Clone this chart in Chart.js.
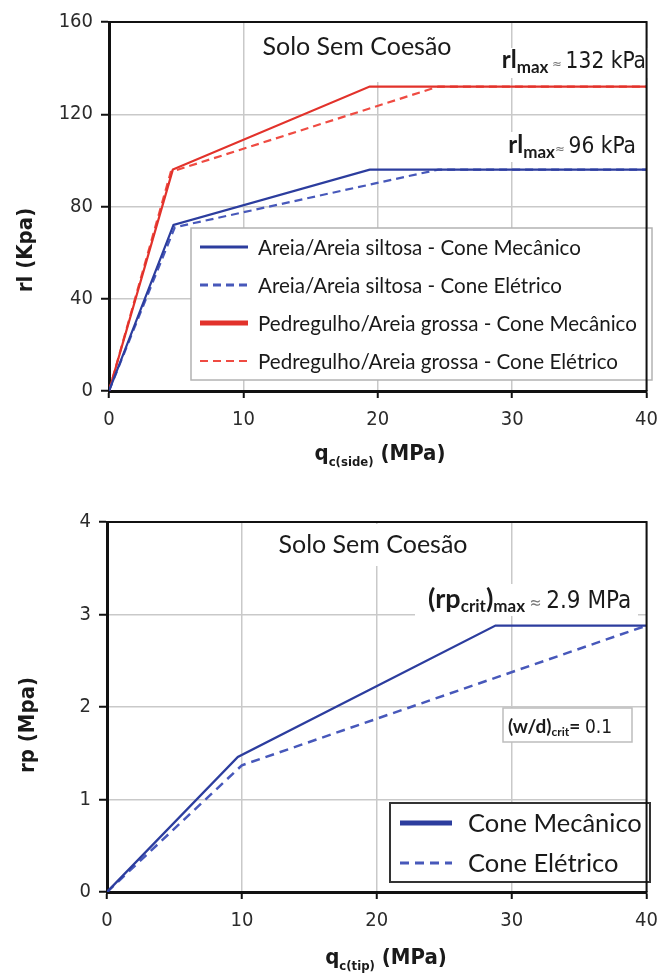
<!DOCTYPE html>
<html>
<head>
<meta charset="utf-8">
<script src="https://cdn.jsdelivr.net/npm/chart.js@4.4.1/dist/chart.umd.min.js"></script>
<style>
  html, body { margin: 0; padding: 0; background: #fff; }
  #wrapSide { position: absolute; left: 0; top: 0; width: 668px; height: 470px; }
  #wrapTip { position: absolute; left: 0; top: 490px; width: 668px; height: 484px; }
</style>
</head>
<body>
<div id="wrapSide"><canvas id="chartSide"></canvas></div>
<div id="wrapTip"><canvas id="chartTip"></canvas></div>
<script>
// ---- data ----
const sideTicksX = [0, 10, 20, 30, 40];
const sideTicksY = [0, 40, 80, 120, 160];

const areiaMecQc = [0, 4.8, 19.4, 40];
const areiaMecRl = [0, 72, 96, 96];
const areiaEleQc = [0, 4.9, 24.5, 40];
const areiaEleRl = [0, 71, 96, 96];
const pedMecQc = [0, 4.75, 19.4, 40];
const pedMecRl = [0, 96, 132, 132];
const pedEleQc = [0, 4.6, 24.5, 40];
const pedEleRl = [0, 95, 132, 132];

const tipTicksX = [0, 10, 20, 30, 40];
const tipTicksY = [0, 1, 2, 3, 4];

const tipMecQc = [0, 9.7, 28.8, 40];
const tipMecRp = [0, 1.46, 2.88, 2.88];
const tipEleQc = [0, 10, 40];
const tipEleRp = [0, 1.37, 2.88];

const COLORS = {
    blue: '#2c3d9e',
    blueDash: '#4758ba',
    red: '#e2322b',
    redDash: '#ef4b42',
    grid: '#c9c9c9'
};

const CAL = 'Lato, "Open Sans", sans-serif';
const NAR = '"DejaVu Sans Condensed", "Liberation Sans", Arial, sans-serif';

function pts(xs, ys) {
    return xs.map((x, i) => ({x: x, y: ys[i]}));
}

// draws a row of text pieces (for subscripts)
function drawParts(ctx, parts, x, y, align) {
    let w = 0;
    parts.forEach(p => { ctx.font = p.font; w += ctx.measureText(p.t).width; });
    let cx = align === 'right' ? x - w : (align === 'center' ? x - w / 2 : x);
    parts.forEach(p => {
        ctx.font = p.font;
        ctx.fillStyle = p.color || '#1a1a1a';
        ctx.fillText(p.t, cx, y + (p.dy || 0));
        cx += ctx.measureText(p.t).width;
    });
}

function whiteBox(ctx, x1, y1, x2, y2) {
    ctx.fillStyle = '#fff';
    ctx.fillRect(x1, y1, x2 - x1, y2 - y1);
}

function drawLegend(ctx, chart, box, rows, sample, textX, font) {
    ctx.save();
    whiteBox(ctx, box.x1, box.y1, box.x2, box.y2);
    ctx.strokeStyle = box.stroke;
    ctx.lineWidth = box.lw;
    ctx.strokeRect(box.x1, box.y1, box.x2 - box.x1, box.y2 - box.y1);
    chart.data.datasets.forEach((ds, i) => {
        const y = rows[i];
        ctx.beginPath();
        ctx.strokeStyle = ds.borderColor;
        ctx.lineWidth = ds.legendWidth;
        ctx.setLineDash(ds.borderDash || []);
        ctx.moveTo(sample[0], y);
        ctx.lineTo(sample[1], y);
        ctx.stroke();
        ctx.setLineDash([]);
        ctx.font = font;
        ctx.fillStyle = '#1a1a1a';
        ctx.textBaseline = 'middle';
        ctx.fillText(ds.label, textX, y + 1);
    });
    ctx.restore();
}

function frame(ctx, a) {
    ctx.save();
    ctx.strokeStyle = '#111';
    ctx.lineWidth = 2;
    ctx.beginPath();
    ctx.moveTo(a.left, a.top);
    ctx.lineTo(a.right, a.top);
    ctx.lineTo(a.right, a.bottom);
    ctx.stroke();
    ctx.restore();
}

function axisScales(ticksX, ticksY, yAxisWidth, xAxisHeight) {
    const tickFont = {family: NAR, size: 20};
    return {
        x: {
            type: 'linear',
            min: ticksX[0], max: ticksX[ticksX.length - 1],
            afterBuildTicks: s => { s.ticks = ticksX.map(v => ({value: v})); },
            afterFit: s => { s.height = xAxisHeight; },
            grid: {color: COLORS.grid, lineWidth: 1.5, tickColor: '#111', tickLength: 7, tickWidth: 2},
            border: {color: '#111', width: 3},
            ticks: {color: '#2b2b2b', font: tickFont, padding: 10, maxRotation: 0}
        },
        y: {
            type: 'linear',
            min: ticksY[0], max: ticksY[ticksY.length - 1],
            afterBuildTicks: s => { s.ticks = ticksY.map(v => ({value: v})); },
            afterFit: s => { s.width = yAxisWidth; },
            grid: {color: COLORS.grid, lineWidth: 1.5, tickColor: '#111', tickLength: 8, tickWidth: 2},
            border: {color: '#111', width: 3},
            ticks: {color: '#2b2b2b', font: tickFont, padding: 8}
        }
    };
}

// ---- top chart: side friction ----
const sideNotes = {
    id: 'sideNotes',
    beforeDatasetsDraw(chart) {
        const ctx = chart.ctx;
        ctx.save();
        whiteBox(ctx, 256, 23, 462, 82);
        whiteBox(ctx, 484, 48, 652, 78);
        whiteBox(ctx, 494, 132, 642, 162);
        ctx.textBaseline = 'alphabetic';
        drawParts(ctx, [{t: 'Solo Sem Coesão', font: '25px ' + CAL}], 357, 55, 'center');
        drawParts(ctx, [
            {t: 'rl', font: 'bold 24px ' + CAL},
            {t: 'max', font: 'bold 17px ' + CAL, dy: 5},
            {t: ' ≈ ', font: '13px ' + NAR, color: '#777'},
            {t: '132 kPa', font: '22.5px ' + NAR}
        ], 646, 68, 'right');
        drawParts(ctx, [
            {t: 'rl', font: 'bold 24px ' + CAL},
            {t: 'max', font: 'bold 17px ' + CAL, dy: 5},
            {t: '≈ ', font: '13px ' + NAR, color: '#777'},
            {t: '96 kPa', font: '22.5px ' + NAR}
        ], 636, 153, 'right');
        ctx.restore();
    },
    afterDatasetsDraw(chart) {
        const ctx = chart.ctx;
        drawLegend(ctx, chart, {x1: 191, y1: 228, x2: 652, y2: 380, stroke: '#b3b3b3', lw: 1.5},
            [247, 285, 323, 361], [200, 248], 258, '20.6px ' + CAL);
        frame(ctx, chart.chartArea);
        ctx.save();
        ctx.fillStyle = '#111';
        ctx.textBaseline = 'alphabetic';
        drawParts(ctx, [
            {t: 'q', font: 'bold 22px ' + NAR},
            {t: 'c(side)', font: 'bold 13px ' + NAR, dy: 6},
            {t: ' (MPa)', font: 'bold 22px ' + NAR}
        ], 380, 460, 'center');
        ctx.translate(26, 250);
        ctx.rotate(-Math.PI / 2);
        ctx.textAlign = 'center';
        ctx.textBaseline = 'middle';
        ctx.font = 'bold 22px ' + NAR;
        ctx.fillText('rl (Kpa)', 0, 0);
        ctx.restore();
    }
};

new Chart(document.getElementById('chartSide'), {
    type: 'scatter',
    data: {
        datasets: [
            {label: 'Areia/Areia siltosa - Cone Mecânico', data: pts(areiaMecQc, areiaMecRl),
                borderColor: COLORS.blue, borderWidth: 2.2, legendWidth: 3},
            {label: 'Areia/Areia siltosa - Cone Elétrico', data: pts(areiaEleQc, areiaEleRl),
                borderColor: COLORS.blueDash, borderWidth: 2.2, borderDash: [8, 5], legendWidth: 3},
            {label: 'Pedregulho/Areia grossa - Cone Mecânico', data: pts(pedMecQc, pedMecRl),
                borderColor: COLORS.red, borderWidth: 2.2, legendWidth: 5},
            {label: 'Pedregulho/Areia grossa - Cone Elétrico', data: pts(pedEleQc, pedEleRl),
                borderColor: COLORS.redDash, borderWidth: 2.2, borderDash: [8, 5], legendWidth: 2}
        ].map(d => Object.assign(d, {showLine: true, pointRadius: 0, tension: 0, fill: false}))
    },
    options: {
        responsive: true,
        maintainAspectRatio: false,
        animation: false,
        layout: {padding: {left: 0, right: 12, top: 22, bottom: 0}},
        plugins: {legend: {display: false}, tooltip: {enabled: false}},
        scales: axisScales(sideTicksX, sideTicksY, 109, 79)
    },
    plugins: [sideNotes]
});

// ---- bottom chart: tip resistance ----
const tipNotes = {
    id: 'tipNotes',
    beforeDatasetsDraw(chart) {
        const ctx = chart.ctx;
        ctx.save();
        whiteBox(ctx, 266, 34, 482, 76);
        whiteBox(ctx, 415, 94, 638, 126);
        ctx.textBaseline = 'alphabetic';
        drawParts(ctx, [{t: 'Solo Sem Coesão', font: '25px ' + CAL}], 373, 63, 'center');
        drawParts(ctx, [
            {t: '(rp', font: 'bold 27px ' + CAL},
            {t: 'crit', font: 'bold 17px ' + CAL, dy: 4},
            {t: ')', font: 'bold 27px ' + CAL},
            {t: 'max', font: 'bold 17px ' + CAL, dy: 4},
            {t: ' ≈ ', font: '16px ' + NAR, color: '#777'},
            {t: '2.9 MPa', font: '24px ' + NAR}
        ], 428, 118, 'left');
        whiteBox(ctx, 503, 218, 632, 252);
        ctx.strokeStyle = '#bdbdbd';
        ctx.lineWidth = 1.5;
        ctx.strokeRect(503, 218, 129, 34);
        drawParts(ctx, [
            {t: '(w/d)', font: 'bold 19px ' + CAL},
            {t: 'crit', font: 'bold 12px ' + CAL, dy: 3},
            {t: '= ', font: 'bold 19px ' + CAL},
            {t: '0.1', font: '19px ' + NAR}
        ], 508, 243, 'left');
        ctx.restore();
    },
    afterDatasetsDraw(chart) {
        const ctx = chart.ctx;
        drawLegend(ctx, chart, {x1: 390, y1: 313, x2: 650, y2: 392, stroke: '#333', lw: 2},
            [333, 373], [400, 452], 468, '25.5px ' + CAL);
        frame(ctx, chart.chartArea);
        ctx.save();
        ctx.fillStyle = '#111';
        ctx.textBaseline = 'alphabetic';
        drawParts(ctx, [
            {t: 'q', font: 'bold 22px ' + NAR},
            {t: 'c(tip)', font: 'bold 13px ' + NAR, dy: 6},
            {t: ' (MPa)', font: 'bold 22px ' + NAR}
        ], 386, 474, 'center');
        ctx.translate(28, 235);
        ctx.rotate(-Math.PI / 2);
        ctx.textAlign = 'center';
        ctx.textBaseline = 'middle';
        ctx.font = 'bold 22px ' + NAR;
        ctx.fillText('rp (Mpa)', 0, 0);
        ctx.restore();
    }
};

new Chart(document.getElementById('chartTip'), {
    type: 'scatter',
    data: {
        datasets: [
            {label: 'Cone Mecânico', data: pts(tipMecQc, tipMecRp),
                borderColor: COLORS.blue, borderWidth: 2.3, legendWidth: 5},
            {label: 'Cone Elétrico', data: pts(tipEleQc, tipEleRp),
                borderColor: COLORS.blueDash, borderWidth: 2.5, borderDash: [9, 6], legendWidth: 3}
        ].map(d => Object.assign(d, {showLine: true, pointRadius: 0, tension: 0, fill: false}))
    },
    options: {
        responsive: true,
        maintainAspectRatio: false,
        animation: false,
        layout: {padding: {left: 0, right: 14, top: 32, bottom: 0}},
        plugins: {legend: {display: false}, tooltip: {enabled: false}},
        scales: axisScales(tipTicksX, tipTicksY, 107, 82)
    },
    plugins: [tipNotes]
});
</script>
</body>
</html>
